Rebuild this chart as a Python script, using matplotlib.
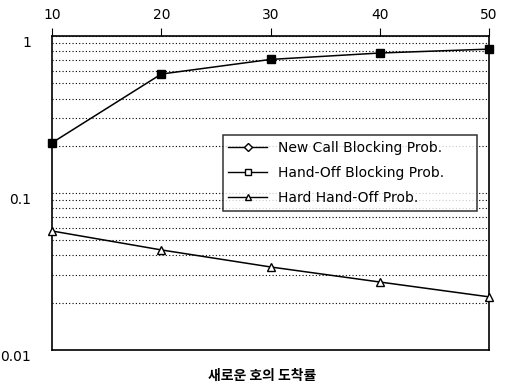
import matplotlib.pyplot as plt
from matplotlib.lines import Line2D
from matplotlib.ticker import FixedLocator, LogLocator, NullFormatter

plt.rcParams['font.family'] = ['DejaVu Sans', 'Noto Sans CJK KR']

# --- dados ---
taxa_chegada = [10, 20, 30, 40, 50]
handoff_bloqueio = [0.209, 0.573, 0.71, 0.78, 0.826]
hard_handoff = [0.0573, 0.0434, 0.0338, 0.0271, 0.0218]
rotulos_y = ['0.01', '0.1', '1']
valores_y = [0.01, 0.1, 1]

fig = plt.figure(figsize=(5.1, 3.88), dpi=100)
ax = fig.add_axes([0.102, 0.098, 0.857, 0.809])

ax.plot(taxa_chegada, handoff_bloqueio, color='black', lw=1.1, marker='s',
        ms=6, mfc='black', mec='black', clip_on=False, zorder=3)
ax.plot(taxa_chegada, hard_handoff, color='black', lw=1.1, marker='^',
        ms=6, mfc='white', mec='black', clip_on=False, zorder=3)

ax.set_yscale('log')
ax.set_ylim(0.01, 1)
ax.set_xlim(10, 50)
ax.yaxis.set_major_locator(FixedLocator(valores_y))
ax.set_yticklabels(rotulos_y, va='top')
ax.yaxis.set_minor_locator(LogLocator(base=10, subs=range(2, 10)))
ax.yaxis.set_minor_formatter(NullFormatter())
ax.tick_params(axis='y', which='both', length=0, pad=15, labelsize=10)
ax.yaxis.grid(True, which='both', linestyle=(0, (1, 2)), color='black', lw=0.8)

ax.set_xticks(taxa_chegada)
ax.xaxis.tick_top()
ax.tick_params(axis='x', direction='out', length=6, labelsize=10, pad=4)

for s in ax.spines.values():
    s.set_linewidth(1.2)

ax.set_xlabel('새로운 호의 도착률', fontsize=10, fontweight='bold',
              family=['Noto Sans CJK KR', 'DejaVu Sans'])
ax.xaxis.set_label_position('bottom')
ax.xaxis.set_label_coords(0.48, -0.06)

handles = [
    Line2D([], [], color='black', lw=1, marker='D', ms=4, mfc='white'),
    Line2D([], [], color='black', lw=1, marker='s', ms=5, mfc='white'),
    Line2D([], [], color='black', lw=1, marker='^', ms=5, mfc='white'),
]
nomes = ['New Call Blocking Prob.', 'Hand-Off Blocking Prob.', 'Hard Hand-Off Prob.']
leg = ax.legend(handles, nomes, loc='upper left',
                bbox_to_anchor=(0.391, 0.436, 0.581, 0.248), mode='expand',
                fontsize=10, frameon=True, fancybox=False, edgecolor='black',
                handlelength=2.8, borderpad=0.4, labelspacing=0.8,
                borderaxespad=0)
leg.get_frame().set_linewidth(1.1)

fig.savefig('out.png', dpi=100)
